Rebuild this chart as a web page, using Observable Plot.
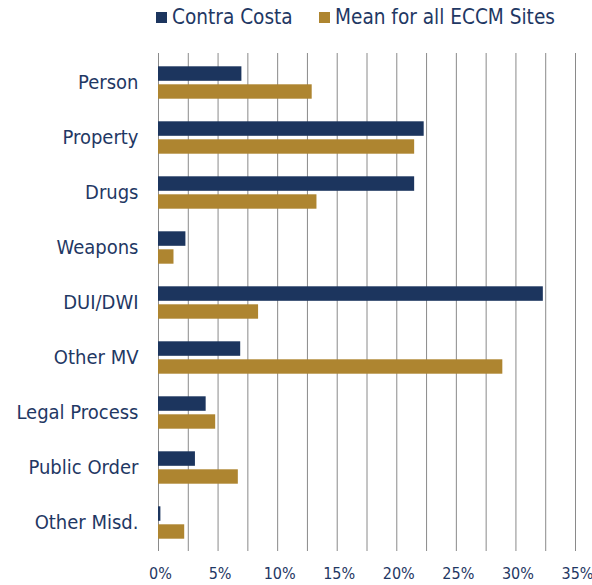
<!DOCTYPE html>
<html>
<head>
<meta charset="utf-8">
<script src="https://cdn.jsdelivr.net/npm/d3@7"></script>
<script src="https://cdn.jsdelivr.net/npm/@observablehq/plot@0.6"></script>
<style>
  html, body { margin: 0; padding: 0; background: #fff; }
  body { width: 592px; height: 585px; overflow: hidden; font-family: "DejaVu Sans Condensed", "DejaVu Sans", sans-serif; }
  #legend { position: relative; height: 36px; color: #1f3864; font-size: 20.6px; }
  .item { position: absolute; top: 5px; display: flex; align-items: center; white-space: nowrap; }
  .sw { width: 11px; height: 11px; margin-right: 5px; }
</style>
</head>
<body>
<div id="legend"></div>
<div id="chart"></div>
<script>
const categories = ["Person", "Property", "Drugs", "Weapons", "DUI/DWI", "Other MV", "Legal Process", "Public Order", "Other Misd."];
const contraCosta = [7.0, 22.3, 21.5, 2.3, 32.3, 6.9, 4.0, 3.1, 0.2];
const eccmMean = [12.9, 21.5, 13.3, 1.3, 8.4, 28.9, 4.8, 6.7, 2.2];
const seriesNames = ["Contra Costa", "Mean for all ECCM Sites"];
const seriesColors = ["#1c355e", "#ae8530"];
const xTicks = [0, 5, 10, 15, 20, 25, 30, 35];
const gridTicks = [0, 2.5, 5, 7.5, 10, 12.5, 15, 17.5, 20, 22.5, 25, 27.5, 30, 32.5, 35];

const ccData = categories.map((c, i) => ({category: c, value: contraCosta[i]}));
const meanData = categories.map((c, i) => ({category: c, value: eccmMean[i]}));

// legend
const legend = document.getElementById("legend");
const legendX = [156, 319];
seriesNames.forEach((name, i) => {
  const it = document.createElement("div");
  it.className = "item";
  it.style.left = legendX[i] + "px";
  const sw = document.createElement("span");
  sw.className = "sw";
  sw.style.background = seriesColors[i];
  const t = document.createElement("span");
  t.textContent = name;
  it.appendChild(sw); it.appendChild(t);
  legend.appendChild(it);
});

const chart = Plot.plot({
  width: 592,
  height: 549,
  marginLeft: 158,
  marginRight: 17,
  marginTop: 17,
  marginBottom: 34,
  style: {fontFamily: '"DejaVu Sans Condensed", "DejaVu Sans", sans-serif', color: "#1f3864", background: "#fff"},
  x: {domain: [0, 35]},
  y: {domain: categories, padding: 0},
  marks: [
    Plot.gridX(gridTicks, {stroke: "#8a8a8a", strokeOpacity: 1, strokeWidth: 1}),
    Plot.barX(ccData, {y: "category", x: "value", fill: seriesColors[0], insetTop: 11.3, insetBottom: 29.2}),
    Plot.barX(meanData, {y: "category", x: "value", fill: seriesColors[1], insetTop: 29.3, insetBottom: 11.3}),
    Plot.axisX(xTicks, {tickSize: 0, tickPadding: 16, tickFormat: d => d + "%", fontSize: 16, fill: "#1f3864", dx: 2, label: null}),
    Plot.axisY({tickSize: 0, tickPadding: 20, fontSize: 20, fill: "#1f3864", label: null})
  ]
});
document.getElementById("chart").appendChild(chart);
</script>
</body>
</html>
